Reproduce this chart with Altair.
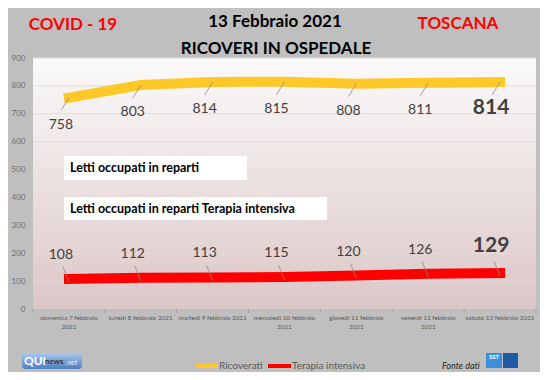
import altair as alt
import pandas as pd

days = ["domenica 7 febbraio 2021", "lunedì 8 febbraio 2021", "martedì 9 febbraio 2021",
        "mercoledì 10 febbraio 2021", "giovedì 11 febbraio 2021", "venerdì 12 febbraio 2021",
        "sabato 13 febbraio 2021"]
day_labels = ["domenica 7 febbraio\n2021", "lunedì 8 febbraio 2021", "martedì 9 febbraio 2021",
              "mercoledì 10 febbraio\n2021", "giovedì 11 febbraio\n2021", "venerdì 12 febbraio\n2021",
              "sabato 13 febbraio 2021"]
ricoverati = [758, 803, 814, 815, 808, 811, 814]
terapia = [108, 112, 113, 115, 120, 126, 129]
yticks = [0, 100, 200, 300, 400, 500, 600, 700, 800, 900]

YEL = "#FFC829"
RED = "#FF0000"
FONT = "Lato"
W, H = 503, 251

rows = []
for i, d in enumerate(days):
    rows.append({"day": d, "series": "Ricoverati", "value": ricoverati[i], "last": i == len(days) - 1})
    rows.append({"day": d, "series": "Terapia intensiva", "value": terapia[i], "last": i == len(days) - 1})
df = pd.DataFrame(rows)
lab_df = pd.DataFrame({"day": days, "label": day_labels})
tick_df = pd.DataFrame({"tick": yticks[1:]})
one = pd.DataFrame({"a": [0]})

xs = alt.X("day:N", sort=days, scale=alt.Scale(type="point", padding=0.5), axis=None)
yaxis = alt.Axis(values=yticks, grid=False, domain=False, ticks=False, labelColor="#6e6e6e",
                 labelFontSize=8, labelFont=FONT, labelPadding=8, title=None)
yscale = alt.Scale(domain=[0, 900], nice=False)

grad = alt.Gradient(gradient="linear",
                    stops=[alt.GradientStop(color="#fbfafa", offset=0),
                           alt.GradientStop(color="#dcc7c7", offset=1)],
                    x1=0, x2=0, y1=0, y2=1)

bg = alt.Chart(one).mark_rect(fill=grad).encode(
    x=alt.value(0), x2=alt.value(W), y=alt.value(0), y2=alt.value(H))

grid = alt.Chart(tick_df).mark_rule(color="#e4dcdc", strokeWidth=1).encode(
    y=alt.Y("tick:Q", scale=yscale, axis=yaxis))

xticks = alt.Chart(lab_df).mark_rule(color="#a0a0a0", xOffset=-36, x2Offset=-36).encode(
    x=xs, y=alt.value(H), y2=alt.value(H + 4))
xtick_end = alt.Chart(one).mark_rule(color="#a0a0a0").encode(
    x=alt.value(W), y=alt.value(H), y2=alt.value(H + 4))

xlabels = alt.Chart(lab_df).mark_text(font=FONT, fontSize=6.4, color="#595959", lineBreak="\n",
                                      baseline="middle", lineHeight=9).encode(
    x=xs, y=alt.value(260), text="label:N")

yel = df[df.series == "Ricoverati"]
red = df[df.series == "Terapia intensiva"]

line_y = alt.Chart(yel).mark_line(color=YEL, strokeWidth=10, strokeCap="square").encode(
    x=xs, y=alt.Y("value:Q", scale=yscale, axis=yaxis))
line_r = alt.Chart(red).mark_line(color=RED, strokeWidth=10, strokeCap="square").encode(
    x=xs, y=alt.Y("value:Q", scale=yscale, axis=yaxis))

lead_y = alt.Chart(yel).mark_rule(color="#8c8c8c", strokeWidth=0.8, x2Offset=-8, y2Offset=13).encode(
    x=xs, x2=alt.X2("day:N"), y=alt.Y("value:Q", scale=yscale, axis=yaxis), y2="value:Q")
lead_r = alt.Chart(red).mark_rule(color="#8c8c8c", strokeWidth=0.8, xOffset=-6, yOffset=-12, y2Offset=3).encode(
    x=xs, x2=alt.X2("day:N"), y=alt.Y("value:Q", scale=yscale, axis=yaxis), y2="value:Q")

def labels(data, dy, bold):
    return alt.Chart(data).mark_text(
        font=FONT, fontSize=21 if bold else 14, fontWeight="bold" if bold else "normal",
        color="#404040", dx=-9 if bold else -8, dy=dy, baseline="middle").encode(
        x=xs, y=alt.Y("value:Q", scale=yscale, axis=yaxis), text="value:Q")

lab_y = labels(yel[~yel["last"]], 27, False)
lab_y_last = labels(yel[yel["last"]], 26, True)
lab_r = labels(red[~red["last"]], -24, False)
lab_r_last = labels(red[red["last"]], -27, True)

def box(x0, x1, y0, y1, fill="white"):
    return alt.Chart(one).mark_rect(fill=fill).encode(
        x=alt.value(x0), x2=alt.value(x1), y=alt.value(y0), y2=alt.value(y1))

def txt(t, x, y, size, color="#000000", weight="bold", align="left", style="normal", font=FONT):
    return alt.Chart(one).mark_text(text=t, font=font, fontSize=size, color=color, fontWeight=weight,
                                    align=align, baseline="middle", fontStyle=style).encode(
        x=alt.value(x), y=alt.value(y))

box1 = box(31, 214, 98, 122)
box2 = box(31, 294, 139, 162)
t1 = txt("Letti occupati in reparti", 37, 110, 12.5)
t2 = txt("Letti occupati in reparti Terapia intensiva", 37, 151, 12.5)

title1 = txt("COVID - 19", 40, -33, 17, color=RED, align="center")
title2 = txt("13 Febbraio 2021", 242, -36, 17, align="center")
title3 = txt("RICOVERI IN OSPEDALE", 243, -9, 17, align="center")
title4 = txt("TOSCANA", 425, -34, 17, color=RED, align="center")

LEGY = 308
leg_y = alt.Chart(one).mark_rule(color=YEL, strokeWidth=4).encode(
    x=alt.value(163), x2=alt.value(185), y=alt.value(LEGY))
leg_r = alt.Chart(one).mark_rule(color=RED, strokeWidth=4).encode(
    x=alt.value(235), x2=alt.value(258), y=alt.value(LEGY))
leg_t1 = txt("Ricoverati", 186, LEGY, 10, color="#595959", weight="normal")
leg_t2 = txt("Terapia intensiva", 259, LEGY, 10, color="#595959", weight="normal")

fonte = txt("Fonte dati", 409, 308, 9, color="#262626", weight="normal", style="italic")
sst_a = box(453, 469, 295, 310, fill="#3d8fdc")
sst_b = box(470, 485, 295, 310, fill="#1f5aa6")
sst_t = txt("SST", 461, 299, 6, color="white", align="center")

qgrad = alt.Gradient(gradient="linear",
                     stops=[alt.GradientStop(color="#a9c8ee", offset=0),
                            alt.GradientStop(color="#4d7fc0", offset=1)],
                     x1=0, x2=0, y1=0, y2=1)
qui_bg = alt.Chart(one).mark_rect(fill=qgrad, cornerRadius=3).encode(
    x=alt.value(-11), x2=alt.value(49), y=alt.value(295), y2=alt.value(311))
qui_t = txt("QUI", -9, 303, 12, color="white")
qui_n = txt("news", 12, 304, 8, color="#3a3a3a")
qui_net = txt(".net", 33, 305, 7, color="#e8f0ff", style="italic", weight="normal")

chart = alt.layer(
    bg, grid, xticks, xtick_end, xlabels, line_y, line_r, lead_y, lead_r,
    lab_y, lab_y_last, lab_r, lab_r_last, box1, box2, t1, t2,
    title1, title2, title3, title4, leg_y, leg_r, leg_t1, leg_t2,
    fonte, sst_a, sst_b, sst_t, qui_bg, qui_t, qui_n, qui_net
).properties(
    width=W, height=H, background="#bfbfbf",
    autosize=alt.AutoSizeParams(type="none"),
    padding={"left": 25, "top": 50, "right": 4, "bottom": 63}
).configure_view(stroke=None)

chart.save("out.html", embed_options={"renderer": "svg", "actions": False})
